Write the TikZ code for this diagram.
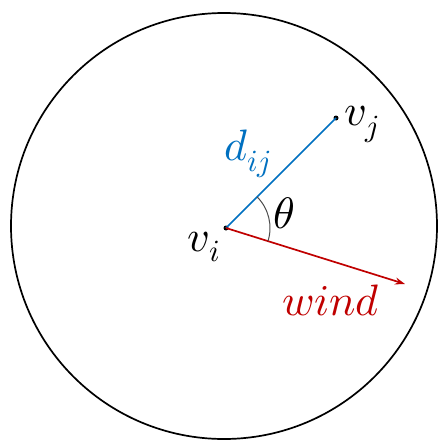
\documentclass[tikz,border=0pt]{standalone}
\usepackage{unicode-math}
\setmathfont{Latin Modern Math}
\usetikzlibrary{arrows.meta,calc}
\definecolor{lineblue}{RGB}{0,112,192}
\definecolor{windred}{RGB}{192,0,0}
\tikzset{
  lbl/.style={inner sep=0pt, font=\fontsize{44}{52}\selectfont},
  vdot/.style={circle, fill=black, inner sep=0pt, minimum size=5pt},
}
\begin{document}
\begin{tikzpicture}[x=1pt, y=1pt]
\useasboundingbox (0,0) rectangle (441,-439);
\node[draw, circle, line width=1.7pt, minimum size=426pt, inner sep=0pt] (circ) at (224,-226) {};
\node[vdot] (vi) at (226,-228) {};
\node[vdot] (vj) at (336,-118) {};
\coordinate (wtip) at (405,-284);
\draw[lineblue, line width=1.7pt] (vi.center) -- (vj.center);
\draw[windred, line width=1.7pt, -{Stealth[length=10pt, width=7pt]}] (vi.center) -- (wtip);
\draw[gray!60!black, line width=1pt] ($(vi.center)+(45:44)$) arc[start angle=45, end angle=-17.4, radius=44];
\node[lbl] (lvi) at (204,-247) {$v_i$};
\node[lbl] (lvj) at (362,-124) {$v_j$};
\node[lbl, text=lineblue] (ldij) at (248,-154) {$d_{ij}$};
\node[lbl] (lth) at (284,-213) {$\theta$};
\node[lbl, text=windred, anchor=base] (lwind) at (331,-315) {$wind$};
\end{tikzpicture}
\end{document}
